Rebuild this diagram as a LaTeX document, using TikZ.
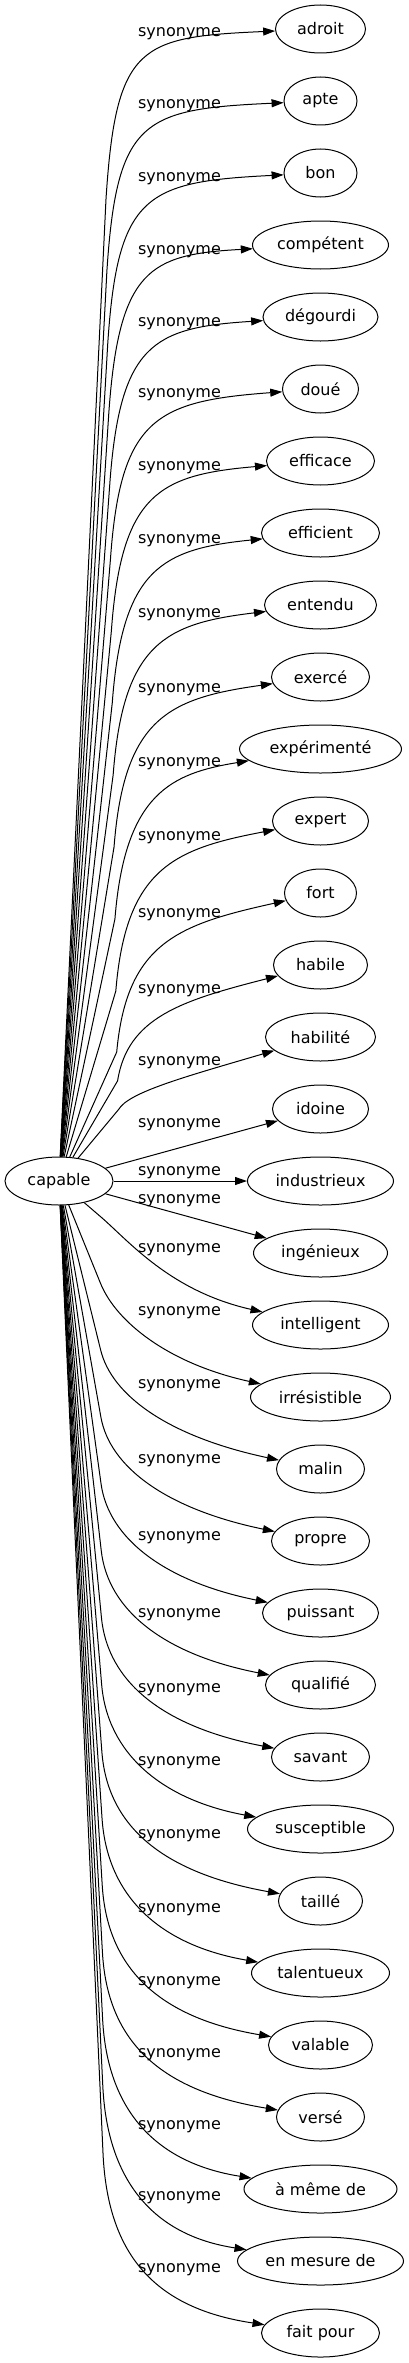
\documentclass[tikz,border=0pt]{standalone}
\usepackage{fontspec}
\setmainfont{DejaVu Sans}
\usetikzlibrary{arrows.meta,shapes.geometric}

\begin{document}
\begin{tikzpicture}[
  x=1pt, y=-1pt,
  font=\fontsize{16}{19}\selectfont,
  >={Triangle[length=12pt,width=8pt]},
  % Styles
  word/.style={draw,ellipse,line width=1pt,minimum height=48pt,inner sep=0pt},
  rel/.style={inner sep=0pt,anchor=base},
  link/.style={->,line width=1pt},
  ]

\path[use as bounding box,fill=white] (0,0) rectangle (409,2363);

%--- Source word ----------------------------------------------------
\node[word, minimum width=108pt] (capable) at (59,1181) {capable};

%--- Synonyms -------------------------------------------------------
\foreach \i/\w/\txt in {0/90/adroit, 1/73/apte, 2/73/bon, 3/136/compétent,
    4/115/dégourdi, 5/76/doué, 6/108/efficace, 7/118/efficient,
    8/112/entendu, 9/98/exercé, 10/162/expérimenté, 11/96/expert,
    12/72/fort, 13/94/habile, 14/110/habilité, 15/96/idoine,
    16/146/industrieux, 17/134/ingénieux, 18/136/intelligent,
    19/140/irrésistible, 20/88/malin, 21/98/propre, 22/116/puissant,
    23/110/qualifié, 24/98/savant, 25/146/susceptible, 26/84/taillé,
    27/138/talentueux, 28/104/valable, 29/88/versé, 30/153/à même de,
    31/166/en mesure de, 32/118/fait pour}
  \node[word, minimum width=\w pt] (syn\i) at (320.5,{29+72*\i}) {\txt};

%--- Edge labels ----------------------------------------------------
\foreach \i/\ly in {0/32, 1/104, 2/176, 3/249, 4/321, 5/392, 6/465,
    7/538, 8/612, 9/687, 10/761, 11/835, 12/912, 13/988, 14/1060,
    15/1122, 16/1170, 17/1198, 18/1247, 19/1310, 20/1383, 21/1458,
    22/1535, 23/1612, 24/1687, 25/1760, 26/1833, 27/1907, 28/1980,
    29/2052, 30/2124, 31/2195, 32/2267}
  \node[rel] (lab\i) at (179.5,{\ly+5}) {synonyme};

%--- Edges going up -------------------------------------------------
\foreach \i in {0,...,14} {
  \pgfmathsetmacro\ty{29+72*\i}
  \pgfmathsetmacro\f{(1158-\ty)/1129}
  \pgfmathsetmacro\px{120-14*\f}
  \pgfmathsetmacro\py{\ty+min(170,0.6*(1158-\ty))}
  \pgfmathsetmacro\ay{\ty+15+45*(1-\f)}
  \pgfmathsetmacro\bx{190-50*\f}
  \pgfmathsetmacro\by{\ty+8+40*(1-\f)^2}
  \coordinate (bend\i) at (\px,\py);
  \draw[link] (capable) -- (bend\i) .. controls (\px+10,\ay) and (\bx,\by) .. (syn\i);
}

%--- Straight edges -------------------------------------------------
\foreach \i in {15,16,17}
  \draw[link] (capable) -- (syn\i);

%--- Edges going down -----------------------------------------------
\foreach \i in {18,...,32} {
  \pgfmathsetmacro\ty{29+72*\i}
  \pgfmathsetmacro\f{(\ty-1204)/1129}
  \pgfmathsetmacro\px{100+3*\f}
  \pgfmathsetmacro\py{\ty-100-80*\f}
  \pgfmathsetmacro\len{veclen(\px-59,\py-1181)}
  \pgfmathsetmacro\ux{(\px-59)/\len}
  \pgfmathsetmacro\uy{(\py-1181)/\len}
  \pgfmathsetmacro\c{0.3*(\ty-\py)+45*\f}
  \pgfmathsetmacro\ax{\px+\c*\ux}
  \pgfmathsetmacro\ay{\py+\c*\uy}
  \pgfmathsetmacro\bx{172-20*\f}
  \pgfmathsetmacro\by{\ty-25-10*(1-\f)}
  \coordinate (bend\i) at (\px,\py);
  \draw[link] (capable) -- (bend\i) .. controls (\ax,\ay) and (\bx,\by) .. (syn\i);
}

\end{tikzpicture}
\end{document}
